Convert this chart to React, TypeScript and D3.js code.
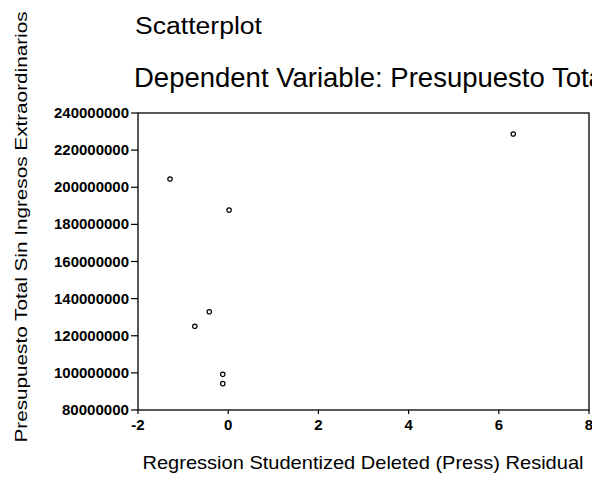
import React from "react";
import * as d3 from "d3";

const residuals = [-1.29, 0.02, -0.42, -0.74, -0.12, -0.12, 6.32];
const presupuesto = [204400000, 187700000, 132900000, 125100000, 99200000, 94200000, 228700000];
const xTicks = [-2, 0, 2, 4, 6, 8];
const yTicks = [80000000, 100000000, 120000000, 140000000, 160000000, 180000000, 200000000, 220000000, 240000000];

const W = 592;
const H = 481;
const FONT = "'Liberation Sans', Arial, sans-serif";

export default function App() {
  const x = d3.scaleLinear().domain([-2, 8]).range([138, 589]);
  const y = d3.scaleLinear().domain([80000000, 240000000]).range([410, 113]);
  const [x0, x1] = x.range();
  const [y0, y1] = y.range();

  return (
    <svg width={W} height={H} style={{ position: "absolute", left: 0, top: 0, background: "#fff" }} fontFamily={FONT}>
      <rect x={0} y={0} width={W} height={H} fill="#fff" />
      <text x={135} y={34} fontSize={23} textLength={127} lengthAdjust="spacingAndGlyphs" fill="#000">Scatterplot</text>
      <text x={134} y={87} fontSize={27.5} fill="#000">Dependent Variable: Presupuesto Total Sin Ingresos Extraordinarios</text>

      <text
        transform={`translate(27, 227) rotate(-90)`}
        fontSize={17}
        textAnchor="middle"
        textLength={431}
        lengthAdjust="spacingAndGlyphs"
        fill="#000"
      >
        Presupuesto Total Sin Ingresos Extraordinarios
      </text>

      <text x={363} y={469} fontSize={19} textAnchor="middle" textLength={441} lengthAdjust="spacingAndGlyphs" fill="#000">
        Regression Studentized Deleted (Press) Residual
      </text>

      <rect x={x0} y={y1} width={x1 - x0} height={y0 - y1} fill="none" stroke="#000" strokeWidth={1.3} />

      {yTicks.map((t) => (
        <g key={t}>
          <line x1={x0 - 7} x2={x0} y1={y(t)} y2={y(t)} stroke="#000" strokeWidth={1.2} />
          <text x={x0 - 9} y={y(t)} dy="0.36em" fontSize={14} fontWeight="bold" textAnchor="end" textLength={t >= 100000000 ? 75 : 67} lengthAdjust="spacingAndGlyphs" fill="#000">
            {t}
          </text>
        </g>
      ))}

      {xTicks.map((t) => (
        <g key={t}>
          <line x1={x(t)} x2={x(t)} y1={y0} y2={y0 + 4} stroke="#000" strokeWidth={1.2} />
          <text x={x(t)} y={y0 + 20} fontSize={15} fontWeight="bold" textAnchor="middle" fill="#000">
            {t}
          </text>
        </g>
      ))}

      {residuals.map((r, i) => (
        <circle key={i} cx={x(r)} cy={y(presupuesto[i])} r={2.2} fill="none" stroke="#000" strokeWidth={1.2} />
      ))}
    </svg>
  );
}
